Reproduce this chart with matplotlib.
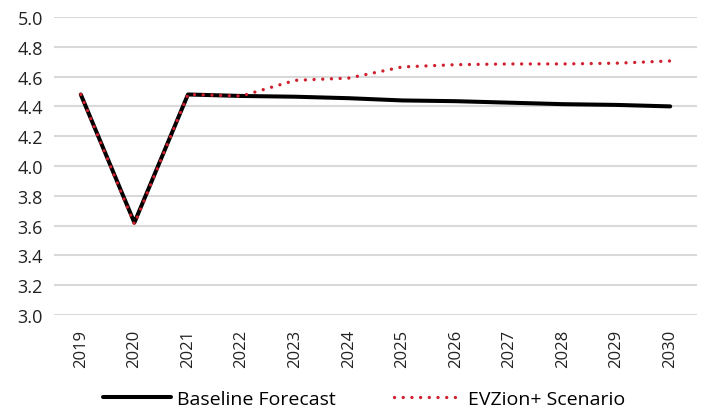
import matplotlib
matplotlib.use("Agg")
import matplotlib.pyplot as plt
import numpy as np

years = ["2019", "2020", "2021", "2022", "2023", "2024", "2025", "2026", "2027", "2028", "2029", "2030"]
baseline = [4.48, 3.62, 4.48, 4.47, 4.465, 4.455, 4.44, 4.435, 4.425, 4.415, 4.41, 4.40]
evzion = [4.48, 3.61, 4.48, 4.47, 4.575, 4.59, 4.665, 4.68, 4.685, 4.685, 4.69, 4.705]

plt.rcParams['font.family'] = ['Open Sans', 'DejaVu Sans']

fig = plt.figure(figsize=(7.02, 4.14), dpi=100)
ax = fig.add_axes([54 / 702, 1 - 316 / 414, 643 / 702, 298 / 414])

x = np.arange(len(years))
ax.plot(x, baseline, color='black', lw=2.9, solid_capstyle='round', label='Baseline Forecast', zorder=3)
ax.plot(x, evzion, color='#d0202e', lw=2.4, linestyle=(0, (0.01, 2.6)), dash_capstyle='round',
        label='EVZion+ Scenario', zorder=4)

ax.set_xlim(-0.5, len(years) - 0.5)
ax.set_ylim(3.0, 5.0)
ax.set_yticks(np.arange(3.0, 5.01, 0.2))
ax.set_yticklabels([f"{v:.1f}" for v in np.arange(3.0, 5.01, 0.2)], fontsize=13, color='#222222')
ax.set_xticks(x)
ax.set_xticklabels(years, rotation=90, fontsize=12, color='#222222')
ax.tick_params(axis='x', length=0, pad=10)
ax.tick_params(axis='y', length=0, pad=8)
ax.grid(axis='y', color='#d9d9d9', lw=1.5)
ax.set_axisbelow(True)
for s in ax.spines.values():
    s.set_visible(False)

fig.legend(loc='center', bbox_to_anchor=(0.519, 1 - 400 / 414), ncol=2, frameon=False,
           fontsize=14, handlelength=3.5, columnspacing=3.0, handletextpad=0.3)

fig.savefig("out.png", dpi=100)
